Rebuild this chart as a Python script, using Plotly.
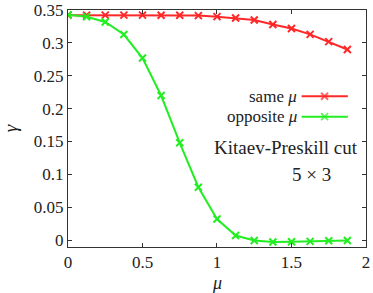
import plotly.graph_objects as go

mu = [0, 0.125, 0.25, 0.375, 0.5, 0.625, 0.75, 0.875, 1.0, 1.125, 1.25, 1.375, 1.5, 1.625, 1.75, 1.875]
gamma_same = [0.3423, 0.3423, 0.3423, 0.3423, 0.3423, 0.3422, 0.3420, 0.3416, 0.3400, 0.3380, 0.3350,
              0.3280, 0.3220, 0.3130, 0.3020, 0.2900]
gamma_opp = [0.3428, 0.3398, 0.3318, 0.3128, 0.2770, 0.2200, 0.1480, 0.0805, 0.0320, 0.0070, -0.0006,
             -0.0030, -0.0025, -0.0020, -0.0010, -0.0006]

x_ticks = [0, 0.5, 1, 1.5, 2]
x_labels = ["0", "0.5", "1", "1.5", "2"]
y_ticks = [0, 0.05, 0.1, 0.15, 0.2, 0.25, 0.3, 0.35]
y_labels = ["0", "0.05", "0.1", "0.15", "0.2", "0.25", "0.3", "0.35"]

series_names = ["same <i>μ</i>", "opposite <i>μ</i>"]
series_colors = ["#ff2828", "#22ee22"]

# legend key geometry (overlay axes 0..1)
key_x = [0.784, 0.861, 0.939]
key_y = [0.636, 0.550]

FONT = "Liberation Serif"
fig = go.Figure()

for name, ys, col in zip(series_names, [gamma_same, gamma_opp], series_colors):
    fig.add_trace(go.Scatter(
        x=mu, y=ys, mode="lines+markers", name=name,
        line=dict(color=col, width=2),
        marker=dict(symbol="x-thin", size=7, line=dict(color=col, width=2)),
        showlegend=False))

for name, ky, col in zip(series_names, key_y, series_colors):
    fig.add_trace(go.Scatter(
        x=key_x, y=[ky] * 3, xaxis="x2", yaxis="y2", mode="lines+markers",
        line=dict(color=col, width=2),
        marker=dict(symbol="x-thin", size=[0, 7, 0], line=dict(color=col, width=2)),
        showlegend=False, hoverinfo="skip"))
    fig.add_annotation(x=0.776, y=ky, xref="paper", yref="paper", text=name,
                       showarrow=False, xanchor="right", yanchor="middle",
                       font=dict(family=FONT, size=17, color="#222"))

fig.add_annotation(x=0.980, y=0.419, xref="paper", yref="paper", text="Kitaev-Preskill cut",
                   showarrow=False, xanchor="right", yanchor="middle",
                   font=dict(family=FONT, size=19, color="#222"))
fig.add_annotation(x=0.818, y=0.304, xref="paper", yref="paper", text="5 × 3",
                   showarrow=False, xanchor="center", yanchor="middle",
                   font=dict(family=FONT, size=19, color="#222"))
fig.add_annotation(x=0.5, y=-0.15, xref="paper", yref="paper", text="<i>μ</i>",
                   showarrow=False, xanchor="center", yanchor="middle",
                   font=dict(family=FONT, size=18, color="#222"))

axis_common = dict(showgrid=False, zeroline=False, showline=True, linecolor="#333", linewidth=1,
                   mirror="ticks", ticks="inside", ticklen=4, tickcolor="#333",
                   ticklabeloverflow="allow", automargin=False,
                   tickfont=dict(family=FONT, size=17, color="#222"))

fig.update_layout(
    width=373, height=293,
    margin=dict(l=67.5, r=7, t=9.5, b=45.7),
    paper_bgcolor="white", plot_bgcolor="white",
    xaxis=dict(range=[0, 2.0001], tickvals=x_ticks, ticktext=x_labels, **axis_common),
    yaxis=dict(range=[-0.0105, 0.3501], tickvals=y_ticks, ticktext=y_labels,
               title=dict(text="<i>γ</i>", font=dict(family=FONT, size=19, color="#222"), standoff=18),
               **axis_common),
    xaxis2=dict(range=[0, 1], overlaying="x", visible=False),
    yaxis2=dict(range=[0, 1], overlaying="y", visible=False),
    showlegend=False,
)

fig.write_html("out.html", config={"displayModeBar": False},
               post_script="document.body.style.margin='0';document.body.style.overflow='hidden';")
